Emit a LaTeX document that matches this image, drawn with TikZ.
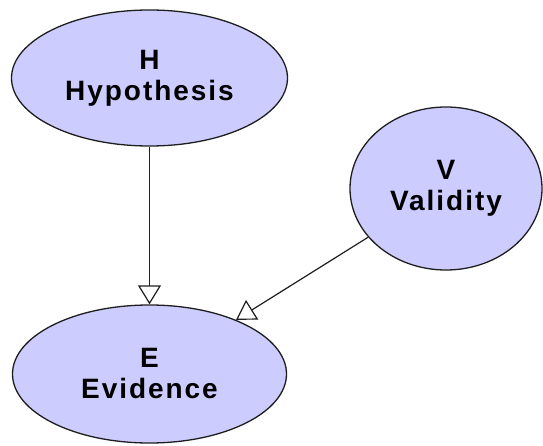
\documentclass[tikz,border=0pt]{standalone}
\usepackage{fontspec}
\setmainfont{Liberation Sans}
\newfontfamily\labfont{Liberation Sans}[LetterSpace=7]
\usetikzlibrary{shapes.geometric,arrows.meta}
\definecolor{nodefill}{RGB}{204,204,255}
\definecolor{edgecol}{RGB}{30,30,30}
\begin{document}
\begin{tikzpicture}[x=1pt,y=-1pt,
  varnode/.style={ellipse,draw=edgecol,fill=nodefill,line width=1.3pt,inner sep=0pt,
    align=center,font=\labfont\bfseries\fontsize{28}{31}\selectfont},
  link/.style={draw=edgecol,line width=1.2pt,-{Triangle[open,length=19pt,width=23pt]}}]
\useasboundingbox (0,0) rectangle (543,446);
\node[varnode,minimum width=276pt,minimum height=136pt] (H) at (149.5,78) {H\\Hypothesis};
\node[varnode,minimum width=192pt,minimum height=163pt] (V) at (446,188.5) {V\\Validity};
\node[varnode,minimum width=274pt,minimum height=138pt] (E) at (149.5,374) {E\\Evidence};
\draw[link] (H) -- (E);
\draw[link] (V) -- (E);
\end{tikzpicture}
\end{document}
